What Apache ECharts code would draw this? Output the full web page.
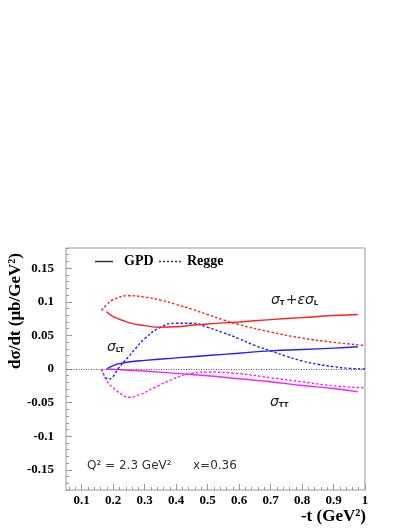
<!DOCTYPE html>
<html>
<head>
<meta charset="utf-8">
<script src="https://cdn.jsdelivr.net/npm/echarts@6.0.0/dist/echarts.min.js"></script>
<style>
  html, body { margin: 0; padding: 0; background: #fff; }
  #main { width: 409px; height: 529px; }
</style>
</head>
<body>
<div id="main"></div>
<script>
// values, -t in GeV^2, dsigma/dt in mub/GeV^2
var gpdTLx = [0.179, 0.2, 0.25, 0.3, 0.35, 0.4, 0.45, 0.5, 0.6, 0.7, 0.8, 0.9, 0.977];
var gpdTLy = [0.085, 0.078, 0.069, 0.0646, 0.0622, 0.0628, 0.065, 0.067, 0.070, 0.0735, 0.0765, 0.0795, 0.081];

var reggeTLx = [0.163, 0.18, 0.2, 0.25, 0.3, 0.35, 0.4, 0.45, 0.5, 0.55, 0.6, 0.7, 0.8, 0.9, 1.0];
var reggeTLy = [0.087, 0.096, 0.103, 0.109, 0.107, 0.1025, 0.096, 0.089, 0.081, 0.073, 0.066, 0.055, 0.046, 0.0397, 0.035];

var gpdLTx = [0.179, 0.2, 0.22, 0.25, 0.3, 0.4, 0.5, 0.6, 0.7, 0.8, 0.9, 0.977];
var gpdLTy = [0, 0.005, 0.008, 0.0105, 0.0128, 0.0165, 0.020, 0.0235, 0.027, 0.029, 0.031, 0.033];

var reggeLTx = [0.163, 0.172, 0.185, 0.2, 0.215, 0.25, 0.27, 0.3, 0.35, 0.4, 0.45, 0.5, 0.55, 0.6, 0.65, 0.7, 0.75, 0.8, 0.85, 0.9, 0.95, 1.0];
var reggeLTy = [0, -0.010, -0.015, -0.011, 0, 0.019, 0.030, 0.045, 0.062, 0.068, 0.068, 0.062, 0.054, 0.045, 0.035, 0.027, 0.019, 0.012, 0.007, 0.0035, 0.001, 0];

var gpdTTx = [0.179, 0.3, 0.4, 0.5, 0.6, 0.7, 0.8, 0.9, 0.977];
var gpdTTy = [0, -0.003, -0.0065, -0.010, -0.0145, -0.019, -0.0245, -0.029, -0.034];

var reggeTTx = [0.163, 0.18, 0.2, 0.225, 0.25, 0.285, 0.33, 0.39, 0.444, 0.5, 0.6, 0.7, 0.8, 0.9, 1.0];
var reggeTTy = [0, -0.018, -0.028, -0.037, -0.042, -0.038, -0.028, -0.015, -0.007, -0.0045, -0.007, -0.013, -0.019, -0.025, -0.028];

var xTickLabels = [0.1, 0.2, 0.3, 0.4, 0.5, 0.6, 0.7, 0.8, 0.9, 1];
var yTickLabels = [-0.15, -0.1, -0.05, 0, 0.05, 0.1, 0.15];

// minor ticks: every 0.02 on x, every 0.01 on y
var xMinor = [];
for (var i = 3; i <= 50; i++) xMinor.push(+(i * 0.02).toFixed(2));
var yMinor = [];
for (var j = -18; j <= 18; j++) yMinor.push(+(j * 0.01).toFixed(2));

function pairs(xs, ys) {
  return xs.map(function (x, k) { return [x, ys[k]]; });
}

var RED = '#ff2020', BLUE = '#2020ff', MAG = '#ff20ff';
var SERIF = '"Liberation Serif", "Times New Roman", serif';
var SANS = '"DejaVu Sans", sans-serif';
var GRAY = '#999';

function curve(name, xs, ys, color, dashed) {
  return {
    name: name,
    type: 'line',
    data: pairs(xs, ys),
    smooth: 0.5,
    showSymbol: false,
    symbol: 'none',
    lineStyle: { color: color, width: 1.4, type: dashed ? [2.5, 2] : 'solid' },
    z: dashed ? 3 : 4
  };
}

var chart = echarts.init(document.getElementById('main'), null, { renderer: 'canvas' });

function baseX(extra) {
  var ax = {
    type: 'value',
    min: 0.05,
    max: 1,
    position: 'bottom',
    axisLine: { show: false, onZero: false },
    splitLine: { show: false }
  };
  return Object.assign(ax, extra);
}
function baseY(extra) {
  var ax = {
    type: 'value',
    min: -0.18,
    max: 0.18,
    position: 'left',
    axisLine: { show: false, onZero: false },
    splitLine: { show: false }
  };
  return Object.assign(ax, extra);
}

var option = {
  animation: false,
  backgroundColor: '#fff',
  grid: {
    left: 66, right: 44, top: 248, bottom: 39,
    show: true, borderColor: GRAY, borderWidth: 1, backgroundColor: 'transparent'
  },
  xAxis: [
    baseX({
      axisTick: { show: true, inside: true, length: 6, lineStyle: { color: GRAY }, customValues: xTickLabels },
      axisLabel: {
        customValues: xTickLabels, margin: 4, color: '#000',
        fontFamily: SERIF, fontWeight: 'bold', fontSize: 13
      }
    }),
    baseX({
      axisTick: { show: true, inside: true, length: 3, lineStyle: { color: GRAY }, customValues: xMinor },
      axisLabel: { show: false }
    })
  ],
  yAxis: [
    baseY({
      axisTick: { show: true, inside: true, length: 6, lineStyle: { color: GRAY }, customValues: yTickLabels },
      axisLabel: {
        customValues: yTickLabels, margin: 12, color: '#000',
        fontFamily: SERIF, fontWeight: 'bold', fontSize: 13
      }
    }),
    baseY({
      axisTick: { show: true, inside: true, length: 3, lineStyle: { color: GRAY }, customValues: yMinor },
      axisLabel: { show: false }
    })
  ],
  series: [
    Object.assign(curve('GPD sigma_T+eps sigma_L', gpdTLx, gpdTLy, RED, false), {
      markLine: {
        silent: true,
        symbol: ['none', 'none'],
        label: { show: false },
        lineStyle: { color: '#555', type: [1, 1.5], width: 1 },
        data: [{ yAxis: 0 }]
      }
    }),
    curve('Regge sigma_T+eps sigma_L', reggeTLx, reggeTLy, RED, true),
    curve('GPD sigma_LT', gpdLTx, gpdLTy, BLUE, false),
    curve('Regge sigma_LT', reggeLTx, reggeLTy, BLUE, true),
    curve('GPD sigma_TT', gpdTTx, gpdTTy, MAG, false),
    curve('Regge sigma_TT', reggeTTx, reggeTTy, MAG, true)
  ],
  graphic: [
    // legend
    { type: 'line', shape: { x1: 95, y1: 261.5, x2: 113, y2: 261.5 }, style: { stroke: '#333', lineWidth: 1.5 } },
    { type: 'text', x: 124, y: 261, style: { text: 'GPD', font: 'bold 14px ' + SERIF, fill: '#000', verticalAlign: 'middle' } },
    { type: 'line', shape: { x1: 159, y1: 261.5, x2: 181, y2: 261.5 }, style: { stroke: '#333', lineWidth: 1.5, lineDash: [2, 2] } },
    { type: 'text', x: 187, y: 261, style: { text: 'Regge', font: 'bold 14px ' + SERIF, fill: '#000', verticalAlign: 'middle' } },
    // curve labels
    {
      type: 'text', x: 271, y: 300,
      style: {
        text: '{s|σ}{b|T}{s|+εσ}{b|L}', verticalAlign: 'middle', fill: '#222',
        rich: {
          s: { fontFamily: SANS, fontStyle: 'italic', fontSize: 14, fill: '#222' },
          b: { fontFamily: SANS, fontWeight: 'bold', fontSize: 7, fill: '#222', padding: [7, 1, 0, 0] }
        }
      }
    },
    {
      type: 'text', x: 107, y: 347,
      style: {
        text: '{s|σ}{b|LT}', verticalAlign: 'middle', fill: '#222',
        rich: {
          s: { fontFamily: SANS, fontStyle: 'italic', fontSize: 14, fill: '#222' },
          b: { fontFamily: SANS, fontWeight: 'bold', fontSize: 7, fill: '#222', padding: [7, 0, 0, 0] }
        }
      }
    },
    {
      type: 'text', x: 270, y: 402,
      style: {
        text: '{s|σ}{b|TT}', verticalAlign: 'middle', fill: '#222',
        rich: {
          s: { fontFamily: SANS, fontStyle: 'italic', fontSize: 14, fill: '#222' },
          b: { fontFamily: SANS, fontWeight: 'bold', fontSize: 7, fill: '#222', padding: [7, 0, 0, 0] }
        }
      }
    },
    { type: 'text', x: 87, y: 466, style: { text: 'Q² = 2.3 GeV²', font: '12px ' + SANS, fill: '#333', verticalAlign: 'middle' } },
    { type: 'text', x: 193, y: 466, style: { text: 'x=0.36', font: '12px ' + SANS, fill: '#333', verticalAlign: 'middle' } },
    // axis titles
    { type: 'text', x: 366, y: 517, style: { text: '-t (GeV²)', font: 'bold 17px ' + SERIF, fill: '#000', align: 'right', verticalAlign: 'middle' } },
    {
      type: 'text', x: 16, y: 311, rotation: Math.PI / 2,
      style: { text: 'dσ/dt (μb/GeV²)', font: 'bold 17px ' + SERIF, fill: '#000', align: 'center', verticalAlign: 'middle' }
    }
  ]
};

chart.setOption(option);
</script>
</body>
</html>
